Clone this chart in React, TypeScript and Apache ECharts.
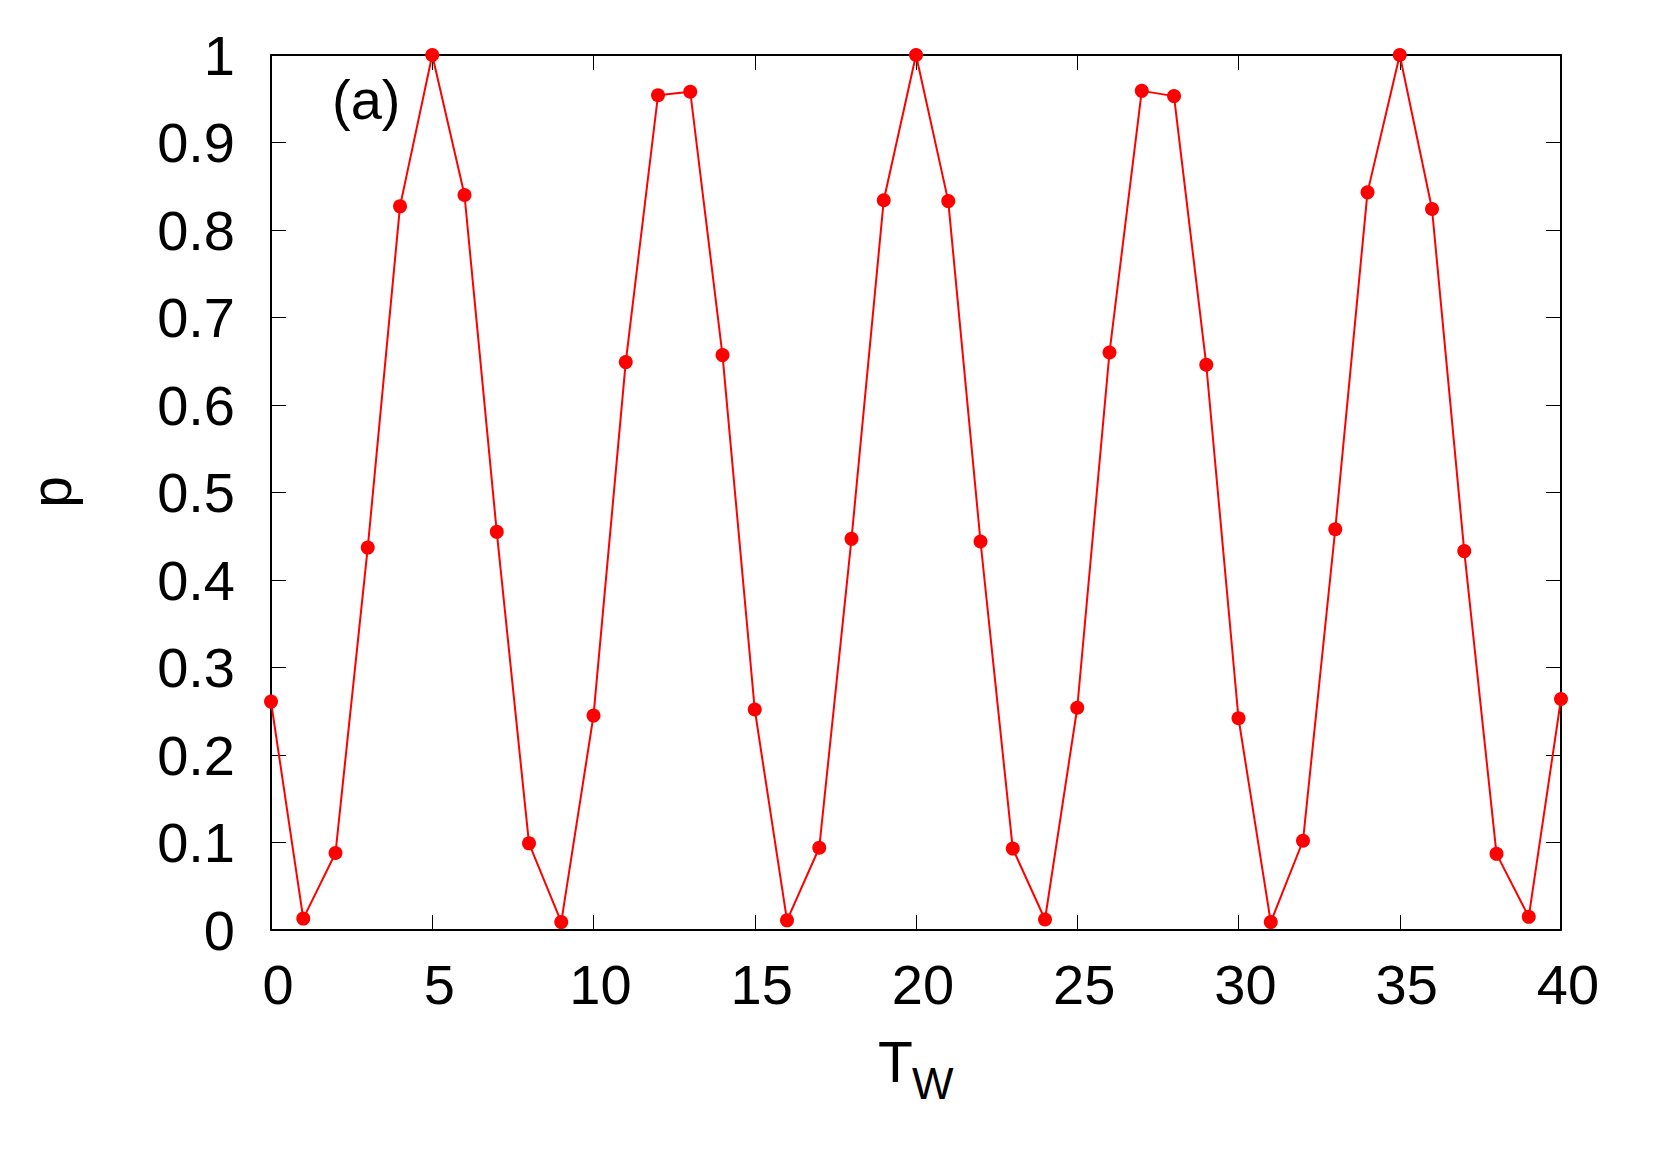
import React, { useEffect, useRef } from "react";
import * as echarts from "echarts";

const tw: number[] = [0,1,2,3,4,5,6,7,8,9,10,11,12,13,14,15,16,17,18,19,20,21,22,23,24,25,26,27,28,29,30,31,32,33,34,35,36,37,38,39,40];
const pValues: number[] = [
  0.261, 0.013, 0.088, 0.437, 0.827, 1.0, 0.840, 0.455, 0.099, 0.009,
  0.245, 0.649, 0.954, 0.958, 0.657, 0.252, 0.011, 0.094, 0.447, 0.834,
  1.0, 0.833, 0.444, 0.093, 0.012, 0.254, 0.660, 0.959, 0.953, 0.646,
  0.242, 0.009, 0.102, 0.458, 0.843, 1.0, 0.824, 0.433, 0.087, 0.015,
  0.264,
];
const xTicks = { min: 0, max: 40, interval: 5 };
const yTicks = { min: 0, max: 1, interval: 0.1 };

const FONT = '"Liberation Sans", Arial, Helvetica, sans-serif';

export default function App() {
  const ref = useRef<HTMLDivElement>(null);
  useEffect(() => {
    if (!ref.current) return;
    const chart = echarts.init(ref.current, undefined, { renderer: "svg" });
    const axisLineStyle = { color: "#000", width: 2 };
    const tickStyle = { color: "#000", width: 1 };
    const fmtY = (v: number) => String(Math.round(v * 10) / 10);
    chart.setOption({
      animation: false,
      backgroundColor: "#fff",
      grid: { left: 271, top: 55, right: 100, bottom: 233, containLabel: false },
      xAxis: [
        {
          type: "value",
          min: xTicks.min,
          max: xTicks.max,
          interval: xTicks.interval,
          position: "bottom",
          axisLine: { show: true, onZero: false, lineStyle: axisLineStyle },
          axisTick: { show: true, inside: true, length: 15, lineStyle: tickStyle },
          axisLabel: {
            show: true,
            color: "#000",
            fontSize: 56,
            fontFamily: FONT,
            margin: 26,
            padding: [0, 0, 0, 14],
          },
          splitLine: { show: false },
        },
        {
          type: "value",
          min: xTicks.min,
          max: xTicks.max,
          interval: xTicks.interval,
          position: "top",
          axisLine: { show: true, onZero: false, lineStyle: axisLineStyle },
          axisTick: { show: true, inside: true, length: 15, lineStyle: tickStyle },
          axisLabel: { show: false },
          splitLine: { show: false },
        },
      ],
      yAxis: [
        {
          type: "value",
          min: yTicks.min,
          max: yTicks.max,
          interval: yTicks.interval,
          position: "left",
          axisLine: { show: true, onZero: false, lineStyle: axisLineStyle },
          axisTick: { show: true, inside: true, length: 15, lineStyle: tickStyle },
          axisLabel: {
            show: true,
            color: "#000",
            fontSize: 56,
            fontFamily: FONT,
            margin: 36,
            formatter: fmtY,
          },
          splitLine: { show: false },
        },
        {
          type: "value",
          min: yTicks.min,
          max: yTicks.max,
          interval: yTicks.interval,
          position: "right",
          axisLine: { show: true, onZero: false, lineStyle: axisLineStyle },
          axisTick: { show: true, inside: true, length: 15, lineStyle: tickStyle },
          axisLabel: { show: false },
          splitLine: { show: false },
        },
      ],
      series: [
        {
          type: "line",
          xAxisIndex: 0,
          yAxisIndex: 0,
          data: tw.map((x, i) => [x, pValues[i]]),
          symbol: "circle",
          symbolSize: 14,
          showSymbol: true,
          lineStyle: { color: "#ff0000", width: 2 },
          itemStyle: { color: "#ff0000" },
          clip: false,
          z: 5,
        },
      ],
      graphic: [
        {
          type: "text",
          x: 51,
          y: 492,
          rotation: Math.PI / 2,
          style: {
            text: "p",
            fill: "#000",
            fontSize: 57,
            fontFamily: FONT,
            align: "center",
            verticalAlign: "middle",
          },
        },
        {
          type: "text",
          x: 878,
          y: 1062,
          style: {
            text: "T",
            fill: "#000",
            fontSize: 57,
            fontFamily: FONT,
            align: "left",
            verticalAlign: "middle",
          },
        },
        {
          type: "text",
          x: 912,
          y: 1083,
          style: {
            text: "W",
            fill: "#000",
            fontSize: 44,
            fontFamily: FONT,
            align: "left",
            verticalAlign: "middle",
          },
        },
        {
          type: "text",
          x: 332,
          y: 99,
          style: {
            text: "(a)",
            fill: "#000",
            fontSize: 56,
            fontFamily: FONT,
            align: "left",
            verticalAlign: "middle",
          },
        },
      ],
    });
    return () => chart.dispose();
  }, []);
  return (
    <div
      ref={ref}
      style={{ width: 1661, height: 1163, position: "absolute", left: 0, top: 0, background: "#fff" }}
    />
  );
}
